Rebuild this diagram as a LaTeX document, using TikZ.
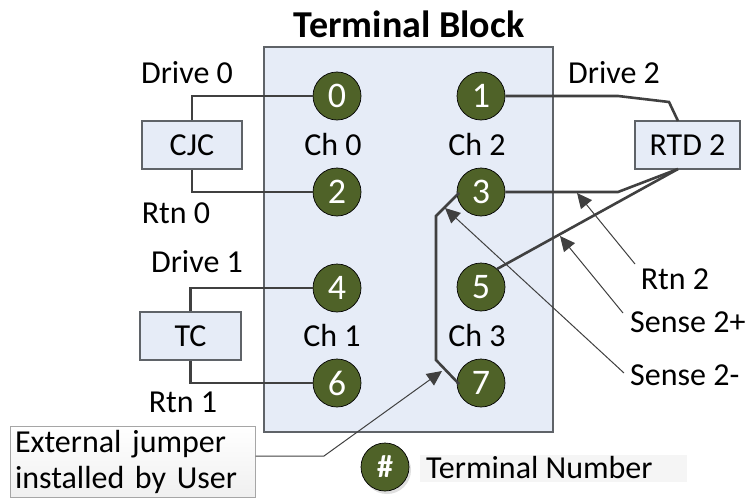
\documentclass[tikz,border=0pt]{standalone}
\usepackage{fontspec}
\setmainfont{Carlito}
\usetikzlibrary{arrows.meta,shadows}
\definecolor{blockfill}{HTML}{E6ECF7}
\definecolor{term}{HTML}{4F6228}
\definecolor{wire}{HTML}{404040}
\definecolor{edge}{HTML}{5F6368}
\tikzset{
  termnode/.style={circle,draw=black,line width=0.7pt,fill=term,text=white,minimum size=48pt,inner sep=0pt,font=\fontsize{36}{38}\selectfont},
  devbox/.style={draw=edge,line width=1.2pt,fill=blockfill,inner sep=0pt,font=\fontsize{32}{36}\selectfont},
  lbl/.style={inner sep=0pt,font=\fontsize{32}{36}\selectfont},
  wireline/.style={draw=wire,line width=2.6pt,line join=miter},
  pointer/.style={draw=wire,line width=1pt,-{Triangle[length=15pt,width=14pt]}}
}
\begin{document}
\begin{tikzpicture}[x=1pt,y=-1pt]
\useasboundingbox (0,0) rectangle (749,500);
\node[draw=edge,line width=1.4pt,fill=blockfill,minimum width=289pt,minimum height=385pt,inner sep=0pt] (block) at (408.5,239.5) {};
\node[inner sep=0pt,font=\bfseries\fontsize{38}{40}\selectfont] (title) at (409,24) {Terminal Block};
\node[devbox,minimum width=100pt,minimum height=48pt] (cjc) at (192,145) {CJC};
\node[devbox,minimum width=101pt,minimum height=48pt] (tc) at (190.5,336) {TC};
\node[devbox,minimum width=105pt,minimum height=48pt] (rtd) at (687.5,145) {RTD 2};
\node[termnode] (c0) at (337,96) {0};
\node[termnode] (c1) at (481,96) {1};
\node[termnode] (c2) at (337,192) {2};
\node[termnode] (c3) at (481,192) {3};
\node[termnode] (c4) at (337,288) {4};
\node[termnode] (c5) at (481,287) {5};
\node[termnode] (c6) at (337,383) {6};
\node[termnode] (c7) at (481,383) {7};
\node[lbl] (ch0) at (333,144) {Ch 0};
\node[lbl] (ch2) at (477,144) {Ch 2};
\node[lbl] (ch1) at (332,335) {Ch 1};
\node[lbl] (ch3) at (477,335) {Ch 3};
\node[lbl] (d0) at (187,73) {Drive 0};
\node[lbl] (r0) at (176,213) {Rtn 0};
\node[lbl] (d1) at (197,262) {Drive 1};
\node[lbl] (r1) at (183,402) {Rtn 1};
\node[lbl] (d2) at (614,73) {Drive 2};
\node[lbl] (r2) at (675,279) {Rtn 2};
\node[lbl,anchor=west] (s2p) at (630,322) {Sense 2+};
\node[lbl,anchor=west] (s2m) at (630,375) {Sense 2-};
% wires
\draw[wireline] (cjc.north) |- (c0.west);
\draw[wireline] (cjc.south) |- (c2.west);
\draw[wireline] (tc.north) |- (c4.west);
\draw[wireline] (tc.south) |- (c6.west);
\coordinate (rtdT) at (678,121);
\coordinate (rtdB) at (678,169);
\draw[wireline] (c1.east) -- (618,96) -- (669,102) -- (rtdT);
\draw[wireline] (c3.east) -- (618,192) -- (rtdB);
\coordinate (j5) at (497,269);
\draw[wireline] (j5) -- (rtdB);
\coordinate (j3) at (459,193);
\coordinate (j7) at (459,384);
\draw[wireline] (j3) -- (436,216) -- (436,360) -- (j7);
% pointers
\coordinate (tipR) at (577,193);
\coordinate (tipP) at (560,236);
\coordinate (tipM) at (445,208);
\coordinate (tipJ) at (442,371);
\coordinate (srcR) at (635,264);
\coordinate (srcP) at (623,313);
\coordinate (srcM) at (624,373);
\draw[pointer] (srcR) -- (tipR);
\draw[pointer] (srcP) -- (tipP);
\draw[pointer] (srcM) -- (tipM);
% callout
\node[draw=gray!70,line width=1pt,top color=white,bottom color=gray!12,minimum width=245pt,minimum height=71pt,inner sep=0pt,align=left,font=\fontsize{32}{36}\selectfont,text width=235pt] (jump) at (132.5,461.5) {External jumper\\installed by User};
\coordinate (jumpOut) at (jump.east |- 0,456);
\draw[pointer] (jumpOut) -- (324,456) -- (tipJ);
% legend
\node[fill=gray!25,minimum size=48pt,circle,inner sep=0pt] (legsh) at (387,470) {};
\node[termnode,font=\bfseries\fontsize{32}{36}\selectfont] (leg) at (385,467) {\#};
\node[fill=gray!8,minimum width=267pt,minimum height=27pt,inner sep=0pt] (legbg) at (553.5,468.5) {};
\node[lbl,anchor=west] (legt) at (426,468) {Terminal Number};
\end{tikzpicture}
\end{document}
